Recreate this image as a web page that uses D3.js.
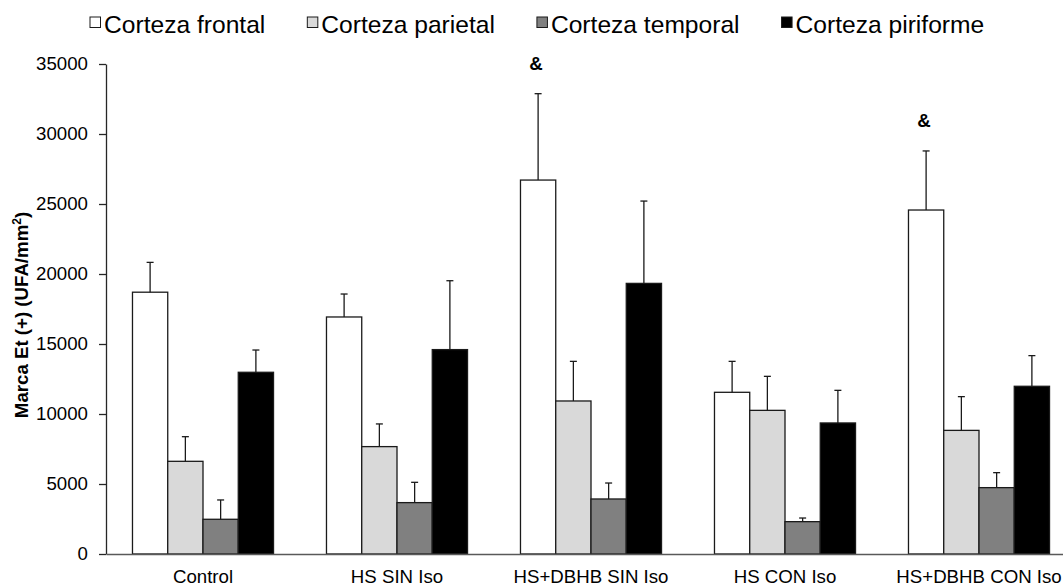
<!DOCTYPE html>
<html>
<head>
<meta charset="utf-8">
<script src="https://cdn.jsdelivr.net/npm/d3@7"></script>
<style>
  html, body { margin: 0; padding: 0; background: #fff; }
  svg { display: block; font-family: Arial, "Liberation Sans", sans-serif; }
</style>
</head>
<body>
<svg id="chart" width="1063" height="587"></svg>
<script>
// Groups along the x axis
const categories = ["Control", "HS SIN Iso", "HS+DBHB SIN Iso", "HS CON Iso", "HS+DBHB CON Iso"];

// Cortical regions (series)
const seriesNames = ["Corteza frontal", "Corteza parietal", "Corteza temporal", "Corteza piriforme"];
const seriesColors = ["#ffffff", "#d9d9d9", "#808080", "#000000"];

// Mean values per region, one per group
const frontal   = [18700, 16930, 26710, 11550, 24570];
const parietal  = [6620, 7670, 10930, 10260, 8830];
const temporal  = [2480, 3670, 3930, 2310, 4740];
const piriforme = [12980, 14600, 19330, 9360, 11980];

// Error (upper whisker length) per region, one per group
const frontalErr   = [2130, 1640, 6170, 2210, 4220];
const parietalErr  = [1760, 1620, 2830, 2430, 2410];
const temporalErr  = [1380, 1450, 1140, 260, 1070];
const piriformeErr = [1590, 4920, 5880, 2330, 2190];

// Significance marks: group index and series index
const marks = [
  { group: 2, series: 0, text: "&" },
  { group: 4, series: 0, text: "&" }
];

const yTicks = [0, 5000, 10000, 15000, 20000, 25000, 30000, 35000];

(function draw() {
  const values = [frontal, parietal, temporal, piriforme];
  const errors = [frontalErr, parietalErr, temporalErr, piriformeErr];

  const rows = [];
  categories.forEach((c, gi) => {
    seriesNames.forEach((s, si) => {
      rows.push({ cat: c, series: s, si, gi, value: values[si][gi], err: errors[si][gi] });
    });
  });

  const svg = d3.select("#chart");
  const plotLeft = 106, plotRight = 1076, plotTop = 64, plotBottom = 554;

  const x0 = d3.scaleBand().domain(categories).range([plotLeft, plotRight]).paddingInner(0.273).paddingOuter(0.1365);
  const x1 = d3.scaleBand().domain(seriesNames).range([0, x0.bandwidth()]).padding(0);
  const y = d3.scaleLinear().domain([0, 35000]).range([plotBottom, plotTop]);

  const cx = d => x0(d.cat) + x1(d.series) + x1.bandwidth() / 2;

  // Bars
  const g = svg.append("g");
  g.selectAll("rect.bar")
    .data(rows)
    .join("rect")
    .attr("class", "bar")
    .attr("x", d => x0(d.cat) + x1(d.series))
    .attr("y", d => y(d.value))
    .attr("width", x1.bandwidth())
    .attr("height", d => y(0) - y(d.value))
    .attr("fill", d => seriesColors[d.si])
    .attr("stroke", "#1a1a1a")
    .attr("stroke-width", 1.3);

  // Error bars (upper whisker only)
  const capHalf = 3.5;
  const eb = g.selectAll("g.err").data(rows).join("g").attr("class", "err")
    .attr("stroke", "#1a1a1a").attr("stroke-width", 1.3);
  eb.append("line")
    .attr("x1", cx).attr("x2", cx)
    .attr("y1", d => y(d.value))
    .attr("y2", d => y(d.value + d.err));
  eb.append("line")
    .attr("x1", d => cx(d) - capHalf)
    .attr("x2", d => cx(d) + capHalf)
    .attr("y1", d => y(d.value + d.err))
    .attr("y2", d => y(d.value + d.err));

  // Significance marks above whiskers
  g.selectAll("text.mark")
    .data(marks)
    .join("text")
    .attr("class", "mark")
    .attr("x", d => x0(categories[d.group]) + x1(seriesNames[d.series]) + x1.bandwidth() / 2 - 2)
    .attr("y", d => y(values[d.series][d.group] + errors[d.series][d.group]) - 24)
    .attr("text-anchor", "middle")
    .attr("font-size", "18.67px")
    .attr("font-weight", "bold")
    .attr("fill", "#000")
    .text(d => d.text);

  // Y axis
  const yAxis = svg.append("g")
    .attr("transform", `translate(${plotLeft},0)`)
    .call(d3.axisLeft(y).tickValues(yTicks).tickFormat(d3.format("d")).tickSize(7).tickPadding(11).tickSizeOuter(0));
  yAxis.select(".domain").attr("stroke", "#262626").attr("stroke-width", 1.3);
  yAxis.selectAll(".tick line").attr("stroke", "#262626").attr("stroke-width", 1.3);
  yAxis.selectAll(".tick text").attr("font-size", "18.67px").attr("fill", "#000")
    .attr("font-family", "Arial, 'Liberation Sans', sans-serif");

  // X axis: baseline and category labels
  const xAxis = svg.append("g")
    .attr("transform", `translate(0,${plotBottom})`)
    .call(d3.axisBottom(x0).tickSize(0).tickPadding(16).tickSizeOuter(0));
  xAxis.select(".domain").attr("stroke", "#595959").attr("stroke-width", 1.6);
  xAxis.selectAll(".tick text").attr("font-size", "18.67px").attr("fill", "#000")
    .attr("font-family", "Arial, 'Liberation Sans', sans-serif");

  // Y axis title
  const yTitle = svg.append("text")
    .attr("transform", `translate(28,${(plotTop + plotBottom) / 2 + 6}) rotate(-90)`)
    .attr("text-anchor", "middle")
    .attr("font-size", "18.67px")
    .attr("font-weight", "bold")
    .attr("fill", "#000");
  yTitle.append("tspan").text("Marca Et (+) (UFA/mm");
  yTitle.append("tspan").attr("baseline-shift", "super").attr("font-size", "12px").text("2");
  yTitle.append("tspan").text(")");

  // Legend
  const legend = svg.append("g").attr("class", "legend");
  let lx = 90;
  seriesNames.forEach((name, i) => {
    const item = legend.append("g").attr("transform", `translate(${lx},0)`);
    item.append("rect")
      .attr("x", 0).attr("y", 17).attr("width", 10.5).attr("height", 10.5)
      .attr("fill", seriesColors[i])
      .attr("stroke", "#1a1a1a").attr("stroke-width", 1);
    const t = item.append("text")
      .attr("x", 14).attr("y", 33)
      .attr("font-size", "24.6px")
      .attr("fill", "#000")
      .text(name);
    lx += 14 + t.node().getComputedTextLength() + 42;
  });
})();
</script>
</body>
</html>
